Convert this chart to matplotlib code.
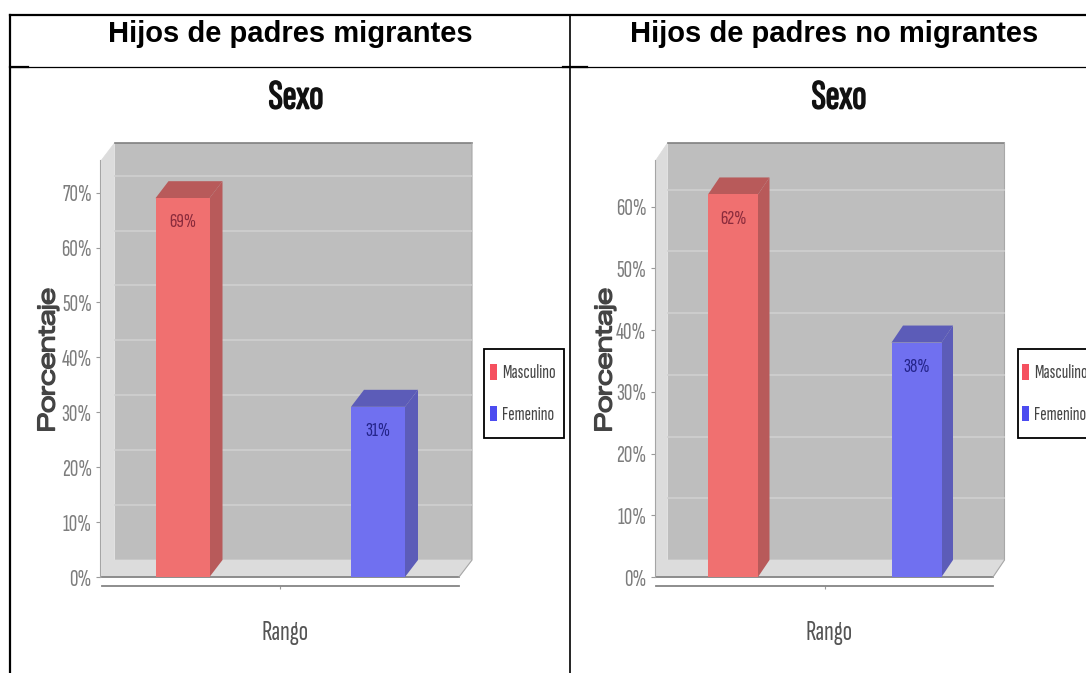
import matplotlib
matplotlib.use('Agg')
import matplotlib.pyplot as plt
import matplotlib.patheffects as pe
from matplotlib.patches import Rectangle

W, H = 1086, 673

categories = ['Masculino', 'Femenino']
headers = ['Hijos de padres migrantes', 'Hijos de padres no migrantes']
values_left = [69, 31]
values_right = [62, 38]
yticks_left = [0, 10, 20, 30, 40, 50, 60, 70]
yticks_right = [0, 10, 20, 30, 40, 50, 60]

WALL = '#bebebe'
FLOOR = '#dcdcdc'
FRONT = ['#f07070', '#7070f0']
SIDE = ['#b85a5a', '#5c5cb8']
LABEL = ['#8a2b3c', '#24248a']
SWATCH = ['#f5505f', '#4c4cf0']
NARROW = ['Sofia Sans Extra Condensed', 'Roboto', 'DejaVu Sans']
WIDE = ['Zalando Sans Expanded', 'DejaVu Sans']

plt.rcParams['font.family'] = ['Liberation Sans', 'DejaVu Sans']
fig = plt.figure(figsize=(W / 100, H / 100), dpi=100, facecolor='white')


def make_axes(x0, x1, y0, y1):
    # pixel box, y measured from the top of the picture
    return fig.add_axes([x0 / W, 1 - y0 / H, (x1 - x0) / W, (y0 - y1) / H])


def draw_chart(values, yticks, left, right, depth_x, px_per_unit, centers, bar_px,
               sexo_x, rango_x, ylab_x, legend_x, swatch_x):
    top, base = 160, 577
    depth_y = 17
    ax = make_axes(left, right, base, top)
    ax.patch.set_visible(False)

    spacing = centers[1] - centers[0]
    xmin = (left - centers[0]) / spacing
    xmax = (right - centers[0]) / spacing
    ymax = (base - top) / px_per_unit
    ax.set_xlim(xmin, xmax)
    ax.set_ylim(0, ymax)
    dx = depth_x / spacing
    dy = depth_y / px_per_unit
    width = bar_px / spacing

    # walls and floor
    ax.fill([xmin + dx, xmax + dx, xmax + dx, xmin + dx], [dy, dy, ymax + dy, ymax + dy],
            color=WALL, lw=0, clip_on=False, zorder=1)
    ax.fill([xmin, xmin + dx, xmin + dx, xmin], [0, dy, ymax + dy, ymax],
            color=FLOOR, lw=0.5, clip_on=False, zorder=1)
    ax.fill([xmin, xmin + dx, xmax + dx, xmax], [0, dy, dy, 0],
            color=FLOOR, lw=0.5, clip_on=False, zorder=1)
    ax.plot([xmin + dx, xmax + dx], [ymax + dy] * 2, color='#808080', lw=1.2, clip_on=False, zorder=2)
    ax.plot([xmin, xmax], [0, 0], color='#858585', lw=1.3, clip_on=False, zorder=2)
    ax.plot([xmax, xmax + dx, xmax + dx], [0, dy, ymax + dy], color='#a8a8a8', lw=0.8, clip_on=False, zorder=2)
    for v in yticks[1:]:
        ax.plot([xmin + dx, xmax + dx], [v + dy] * 2, color='#cfcfcf', lw=1.2, clip_on=False, zorder=2)

    positions = list(range(len(values)))
    ax.bar(positions, values, width=width, color=FRONT, lw=0, zorder=4)
    for i, v in enumerate(values):
        x0, x1 = i - width / 2, i + width / 2
        ax.fill([x1, x1 + dx, x1 + dx, x1], [0, dy, v + dy, v], color=SIDE[i], lw=0, zorder=3, clip_on=False)
        ax.fill([x0, x0 + dx, x1 + dx, x1], [v, v + dy, v + dy, v], color=SIDE[i], lw=0, zorder=3, clip_on=False)
        ax.annotate(f'{v}%', (i, v), xytext=(0, -17.5), textcoords='offset points', ha='center', va='center',
                    color=LABEL[i], family=NARROW, fontsize=15, zorder=5)

    ax.spines['top'].set_visible(False)
    ax.spines['right'].set_visible(False)
    ax.spines['left'].set_position(('outward', 1))
    ax.spines['left'].set_color('#a5a5a5')
    ax.spines['left'].set_linewidth(0.8)
    ax.spines['bottom'].set_position(('outward', 6.5))
    ax.spines['bottom'].set_color('#858585')
    ax.spines['bottom'].set_linewidth(1.3)

    # set_position resets the ticks, so style them after the spines
    ax.set_yticks(yticks)
    ax.set_yticklabels([f'{v}%' for v in yticks])
    ax.set_xticks([0.5])
    ax.set_xticklabels([''])
    ax.tick_params(axis='y', length=3, width=0.8, color='#9a9a9a', labelcolor='#7d7d7d', pad=3)
    ax.tick_params(axis='x', length=2.5, width=0.8, color='#9a9a9a')
    for label in ax.get_yticklabels():
        label.set_family(NARROW)
        label.set_fontsize(17)

    sexo = fig.text(sexo_x / W, 1 - 98 / H, 'Sexo', family=NARROW, fontweight='bold', fontsize=30,
                    ha='center', va='center', color='#111111')
    sexo.set_path_effects([pe.withStroke(linewidth=1.2, foreground='#111111')])
    fig.text(rango_x / W, 1 - 633 / H, 'Rango', family=NARROW, fontsize=20,
             ha='center', va='center', color='#555555')
    ylab = fig.text(ylab_x / W, 1 - 360 / H, 'Porcentaje', family=WIDE, fontsize=17,
                    rotation=90, ha='center', va='center', color='#444444')
    ylab.set_path_effects([pe.withStroke(linewidth=1.0, foreground='#444444')])

    # legend box has a fixed size, entries sit inside it without a frame
    fig.add_artist(Rectangle((legend_x / W, 1 - 438 / H), 80 / W, 89 / H, transform=fig.transFigure,
                             facecolor='white', edgecolor='black', lw=1.3, zorder=9))
    handles = [Rectangle((0, 0), 1, 1, color=c, lw=0) for c in SWATCH]
    leg = ax.legend(handles, categories, loc='upper left', bbox_to_anchor=(swatch_x / W, 1 - 364 / H),
                    bbox_transform=fig.transFigure, borderaxespad=0, frameon=False,
                    prop={'family': NARROW, 'size': 14}, labelcolor='#444444',
                    handlelength=0.35, handleheight=0.85, handletextpad=0.25,
                    labelspacing=1.2, borderpad=0)
    leg.set_zorder(10)
    fig.add_artist(leg)


draw_chart(values_left, yticks_left, 101.5, 459, 13, 5.49, (182.5, 378), 54, 296, 285, 48, 484, 490)
draw_chart(values_right, yticks_right, 656, 993, 11.5, 6.17, (733, 916.5), 50, 839, 829, 605, 1018, 1022)

# table rules around the two columns
frame = fig.add_axes([0, 0, 1, 1], zorder=20)
frame.set_xlim(0, W)
frame.set_ylim(H, 0)
frame.axis('off')
frame.patch.set_visible(False)
frame.plot([10, W], [15, 15], color='black', lw=1.6)
frame.plot([10, W], [66.5, 66.5], color='black', lw=0.9)
frame.plot([10, 28], [67, 67], color='black', lw=1.6)
frame.plot([563, 587], [67, 67], color='black', lw=1.6)
frame.plot([10, 10], [15, H], color='black', lw=1.6)
frame.plot([569.5, 569.5], [15, H], color='black', lw=1.2)
frame.text(290, 41.5, headers[0], fontweight='bold', fontsize=21, ha='center', va='baseline', color='black')
frame.text(834, 41.5, headers[1], fontweight='bold', fontsize=21, ha='center', va='baseline', color='black')

fig.savefig('out.png', dpi=100)
